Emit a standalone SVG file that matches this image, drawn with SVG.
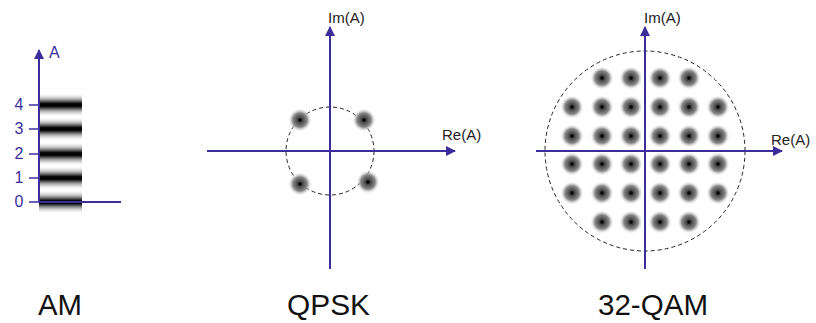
<svg xmlns="http://www.w3.org/2000/svg" width="816" height="323" viewBox="0 0 816 323">
<style>
.ax{stroke:#3b2e9c;stroke-width:2;fill:none}
.tk{stroke:#3b2e9c;stroke-width:1.5}
.num{font-family:"Liberation Sans",Arial,sans-serif;font-size:16px;fill:#3b2e9c}
.lbl{font-family:"Liberation Sans",Arial,sans-serif;font-size:15px;fill:#222}
.title{font-family:"Liberation Sans",Arial,sans-serif;font-size:30px;fill:#111}
.ring{fill:none;stroke:#222;stroke-width:1;stroke-dasharray:4 3}
</style>
<defs>
<marker id="arr" viewBox="0 0 10 10" refX="9" refY="5" markerWidth="10" markerHeight="10" markerUnits="userSpaceOnUse" orient="auto">
<path d="M0,0 L10,5 L0,10 z" fill="#3b2e9c"/>
</marker>
<radialGradient id="dot">
<stop offset="0" stop-color="#000"/>
<stop offset="0.12" stop-color="#111"/>
<stop offset="0.2" stop-color="#444"/>
<stop offset="0.6" stop-color="#888"/>
<stop offset="1" stop-color="#fff" stop-opacity="0"/>
</radialGradient>
<linearGradient id="bar" x1="0" y1="0" x2="0" y2="1">
<stop offset="0" stop-color="#fff" stop-opacity="0"/>
<stop offset="0.3" stop-color="#888"/>
<stop offset="0.45" stop-color="#000"/>
<stop offset="0.55" stop-color="#000"/>
<stop offset="0.7" stop-color="#888"/>
<stop offset="1" stop-color="#fff" stop-opacity="0"/>
</linearGradient>
</defs>

<g id="am">
<rect x="39" y="93" width="43" height="24" fill="url(#bar)"/>
<rect x="39" y="117" width="43" height="24" fill="url(#bar)"/>
<rect x="39" y="142" width="43" height="24" fill="url(#bar)"/>
<rect x="39" y="166" width="43" height="24" fill="url(#bar)"/>
<rect x="39" y="190" width="43" height="24" fill="url(#bar)"/>
<line class="ax" x1="39" y1="202" x2="39" y2="50" marker-end="url(#arr)"/>
<line class="ax" x1="39" y1="202" x2="121" y2="202"/>
<line class="tk" x1="29" y1="105" x2="39" y2="105"/>
<line class="tk" x1="29" y1="129" x2="39" y2="129"/>
<line class="tk" x1="29" y1="154" x2="39" y2="154"/>
<line class="tk" x1="29" y1="178" x2="39" y2="178"/>
<line class="tk" x1="29" y1="202" x2="39" y2="202"/>
<text class="num" x="19" y="110" text-anchor="middle">4</text>
<text class="num" x="19" y="134" text-anchor="middle">3</text>
<text class="num" x="19" y="159" text-anchor="middle">2</text>
<text class="num" x="19" y="183" text-anchor="middle">1</text>
<text class="num" x="19" y="207" text-anchor="middle">0</text>
<text class="num" x="49" y="58">A</text>
<text class="title" x="38" y="315" textLength="44" lengthAdjust="spacingAndGlyphs">AM</text>
</g>

<g id="qpsk">
<circle class="ring" cx="330" cy="151" r="44"/>
<circle cx="300" cy="120" r="12" fill="url(#dot)"/>
<circle cx="364" cy="120" r="12" fill="url(#dot)"/>
<circle cx="300" cy="184" r="12" fill="url(#dot)"/>
<circle cx="368" cy="182" r="12" fill="url(#dot)"/>
<line class="ax" x1="330" y1="269" x2="330" y2="27" marker-end="url(#arr)"/>
<line class="ax" x1="207" y1="151" x2="455" y2="151" marker-end="url(#arr)"/>
<text class="lbl" x="328" y="23">Im(A)</text>
<text class="lbl" x="442" y="140">Re(A)</text>
<text class="title" x="287" y="315" textLength="83" lengthAdjust="spacingAndGlyphs">QPSK</text>
</g>

<g id="qam32">
<circle class="ring" cx="645" cy="151" r="100"/>
<g fill="url(#dot)">
<circle cx="602" cy="78" r="12"/><circle cx="631" cy="78" r="12"/><circle cx="660" cy="78" r="12"/><circle cx="689" cy="78" r="12"/>
<circle cx="572" cy="107" r="12"/><circle cx="602" cy="107" r="12"/><circle cx="631" cy="107" r="12"/><circle cx="660" cy="107" r="12"/><circle cx="689" cy="107" r="12"/><circle cx="718" cy="107" r="12"/>
<circle cx="572" cy="136" r="12"/><circle cx="602" cy="136" r="12"/><circle cx="631" cy="136" r="12"/><circle cx="660" cy="136" r="12"/><circle cx="689" cy="136" r="12"/><circle cx="718" cy="136" r="12"/>
<circle cx="572" cy="164" r="12"/><circle cx="602" cy="164" r="12"/><circle cx="631" cy="164" r="12"/><circle cx="660" cy="164" r="12"/><circle cx="689" cy="164" r="12"/><circle cx="718" cy="164" r="12"/>
<circle cx="572" cy="193" r="12"/><circle cx="602" cy="193" r="12"/><circle cx="631" cy="193" r="12"/><circle cx="660" cy="193" r="12"/><circle cx="689" cy="193" r="12"/><circle cx="718" cy="193" r="12"/>
<circle cx="602" cy="222" r="12"/><circle cx="631" cy="222" r="12"/><circle cx="660" cy="222" r="12"/><circle cx="689" cy="222" r="12"/>
</g>
<line class="ax" x1="645" y1="269" x2="645" y2="27" marker-end="url(#arr)"/>
<line class="ax" x1="536" y1="151" x2="782" y2="151" marker-end="url(#arr)"/>
<text class="lbl" x="644" y="23">Im(A)</text>
<text class="lbl" x="771" y="145">Re(A)</text>
<text class="title" x="598" y="315" textLength="110" lengthAdjust="spacingAndGlyphs">32-QAM</text>
</g>
</svg>
